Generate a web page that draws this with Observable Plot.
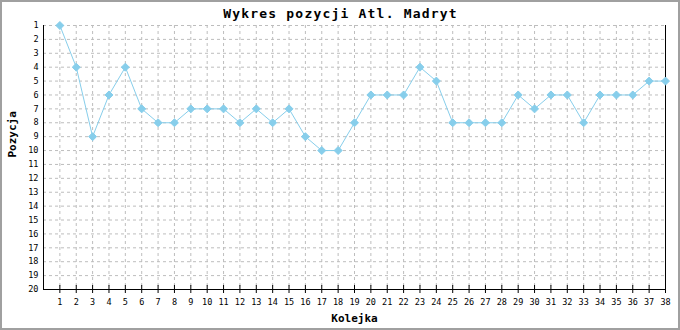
<!DOCTYPE html>
<html><head><meta charset="utf-8">
<script src="https://cdn.jsdelivr.net/npm/d3@7"></script>
<script src="https://cdn.jsdelivr.net/npm/@observablehq/plot@0.6"></script>
<style>
body{margin:0;background:#fff}
#wrap{position:relative;width:680px;height:330px;overflow:hidden}
#wrap svg{position:absolute;left:0;top:0}
#frame{position:absolute;left:0;top:0;width:680px;height:330px;box-sizing:border-box;border:2px solid #a0a0a0;pointer-events:none}
</style></head><body><div id="wrap"><div id="frame"></div></div>
<script>
const title = "Wykres pozycji Atl. Madryt";
const xLabel = "Kolejka";
const yLabel = "Pozycja";
const rounds = [1,2,3,4,5,6,7,8,9,10,11,12,13,14,15,16,17,18,19,20,21,22,23,24,25,26,27,28,29,30,31,32,33,34,35,36,37,38];
const positions = [1,4,9,6,4,7,8,8,7,7,7,8,7,8,7,9,10,10,8,6,6,6,4,5,8,8,8,8,6,7,6,6,8,6,6,6,5,5];
const positionTicks = [1,2,3,4,5,6,7,8,9,10,11,12,13,14,15,16,17,18,19,20];

const data = rounds.map((r, i) => ({round: r, pos: positions[i]}));
const lineColor = "#87ceeb";
const grid = {stroke: "#bdbdbd", strokeOpacity: 1, strokeDasharray: "3,3"};

const chart = Plot.plot({
  width: 680, height: 330,
  marginLeft: 43, marginRight: 15, marginTop: 25, marginBottom: 41,
  style: {fontFamily: "'DejaVu Sans Mono', monospace", fontSize: "8.5px", background: "white", color: "black"},
  x: {domain: [0, 38], label: null},
  y: {domain: [1, 20], reverse: true, label: null},
  marks: [
    Plot.gridX(rounds, grid),
    Plot.gridY(positionTicks, grid),
    Plot.axisY(positionTicks, {tickSize: 0, tickPadding: 5, label: null}),
    Plot.axisX(rounds, {tickSize: 8, dy: -4, tickFormat: () => "", stroke: "black", label: null}),
    Plot.axisX(rounds, {tickSize: 0, tickPadding: 9, label: null}),
    Plot.ruleY([20], {stroke: "black"}),
    Plot.ruleX([0, 38], {y1: 1, y2: 20, stroke: "black"}),
    Plot.line(data, {x: "round", y: "pos", stroke: lineColor, strokeWidth: 1}),
    Plot.dot(data, {x: "round", y: "pos", symbol: "diamond2", r: 3.6, fill: lineColor, stroke: lineColor, strokeWidth: 1}),
    Plot.text([title], {frameAnchor: "top", lineAnchor: "middle", dx: -14, dy: -11.5, fontWeight: "bold", fontSize: 13, fill: "black"}),
    Plot.text([xLabel], {frameAnchor: "bottom", lineAnchor: "middle", dy: 29, fontWeight: "bold", fontSize: 11, fill: "black"}),
    Plot.text([yLabel], {frameAnchor: "left", dx: -31.5, rotate: -90, fontWeight: "bold", fontSize: 11, fill: "black"})
  ]
});
chart.querySelectorAll("text").forEach(t => {
  if (t.textContent === title) t.setAttribute("letter-spacing", "1.2");
});
document.getElementById("wrap").insertBefore(chart, document.getElementById("frame"));
</script>
</body></html>
